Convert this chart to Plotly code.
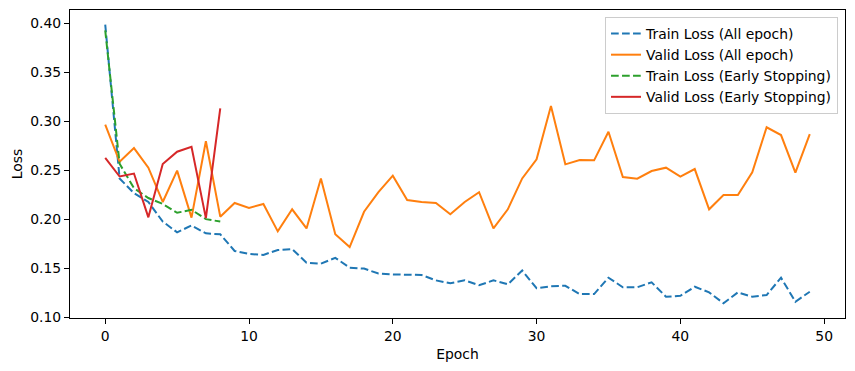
import plotly.graph_objects as go

epochs_all = list(range(50))
epochs_es = list(range(9))

train_all = [0.399, 0.242, 0.227, 0.218, 0.198, 0.187, 0.194, 0.186, 0.185, 0.168,
             0.165, 0.164, 0.169, 0.170, 0.156, 0.155, 0.161, 0.151, 0.150, 0.145,
             0.144, 0.1435, 0.1435, 0.138, 0.135, 0.138, 0.133, 0.138, 0.134, 0.148,
             0.130, 0.132, 0.1325, 0.124, 0.124, 0.1407, 0.131, 0.131, 0.136, 0.1213,
             0.1222, 0.1315, 0.1258, 0.1146, 0.1258, 0.1213, 0.123, 0.1407, 0.1162, 0.1264]
valid_all = [0.297, 0.259, 0.273, 0.253, 0.218, 0.250, 0.202, 0.280, 0.203, 0.217,
             0.212, 0.216, 0.188, 0.2105, 0.191, 0.242, 0.185, 0.172, 0.208, 0.228,
             0.2448, 0.220, 0.218, 0.217, 0.2054, 0.218, 0.228, 0.191, 0.2105, 0.242,
             0.2615, 0.316, 0.2564, 0.2608, 0.2605, 0.2897, 0.2435, 0.2418, 0.2496, 0.253,
             0.2438, 0.2516, 0.2105, 0.225, 0.225, 0.2483, 0.2942, 0.2863, 0.2479, 0.2873]
train_es = [0.393, 0.257, 0.232, 0.222, 0.216, 0.207, 0.210, 0.2005, 0.198]
valid_es = [0.263, 0.244, 0.247, 0.2023, 0.2567, 0.2693, 0.2744, 0.2015, 0.3136]

names = ["Train Loss (All epoch)", "Valid Loss (All epoch)",
         "Train Loss (Early Stopping)", "Valid Loss (Early Stopping)"]
colors = ["#1f77b4", "#ff7f0e", "#2ca02c", "#d62728"]

FONT = "DejaVu Sans"
fig = go.Figure()
fig.add_trace(go.Scatter(x=epochs_all, y=train_all, mode="lines", name=names[0],
                         line=dict(color=colors[0], width=2, dash="7.7px,3.3px")))
fig.add_trace(go.Scatter(x=epochs_all, y=valid_all, mode="lines", name=names[1],
                         line=dict(color=colors[1], width=2)))
fig.add_trace(go.Scatter(x=epochs_es, y=train_es, mode="lines", name=names[2],
                         line=dict(color=colors[2], width=2, dash="7.7px,3.3px")))
fig.add_trace(go.Scatter(x=epochs_es, y=valid_es, mode="lines", name=names[3],
                         line=dict(color=colors[3], width=2)))

axis_common = dict(showline=True, linecolor="black", linewidth=1, mirror=True,
                   ticks="outside", ticklen=5, tickwidth=1, tickcolor="black",
                   showgrid=False, zeroline=False, automargin=False,
                   tickfont=dict(family=FONT, size=13.9, color="black"))

fig.update_layout(
    width=855, height=371,
    margin=dict(l=70, r=10, t=10, b=53),
    paper_bgcolor="white", plot_bgcolor="white",
    font=dict(family=FONT, size=13.9, color="black"),
    showlegend=True,
    legend=dict(x=0.991, y=0.977, xanchor="right", yanchor="top",
                bgcolor="rgba(255,255,255,0.8)", bordercolor="#cccccc", borderwidth=1,
                font=dict(family=FONT, size=13.9, color="black"),
                tracegroupgap=0, itemwidth=30),
    xaxis=dict(range=[-2.45, 51.45], tickvals=[0, 10, 20, 30, 40, 50],
               title=dict(text="Epoch", font=dict(family=FONT, size=13.9), standoff=6),
               **axis_common),
    yaxis=dict(range=[0.0996, 0.4139], tickvals=[0.10, 0.15, 0.20, 0.25, 0.30, 0.35, 0.40],
               tickformat=".2f",
               title=dict(text="Loss", font=dict(family=FONT, size=13.9), standoff=4),
               **axis_common),
)

fig.write_html("out.html", config={"displayModeBar": False},
               post_script="document.body.style.margin='0';document.body.style.overflow='hidden';")
